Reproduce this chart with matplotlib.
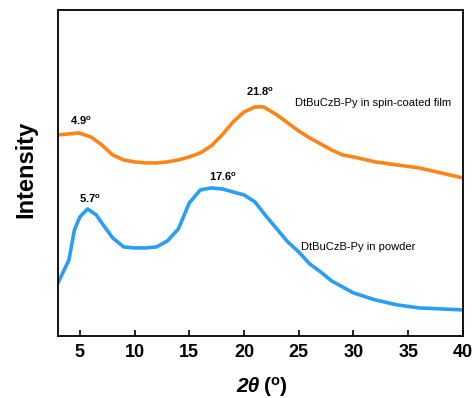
import numpy as np
import matplotlib
matplotlib.use("Agg")
from matplotlib import pyplot as plt

plt.rcParams['font.family'] = ['Liberation Sans', 'DejaVu Sans']

# film (spin-coated)
film_x = [3, 4, 4.9, 6, 7, 8, 9, 10, 11, 12, 13, 14, 15, 16, 17, 18, 19, 20, 21, 21.8,
          23, 24, 25, 26, 27, 28, 29, 30, 32, 34, 36, 38, 40]
film_y = [201, 202, 203, 199, 191, 181, 176, 174, 173, 173, 174, 176, 179, 183, 190, 201,
          214, 224, 229, 229, 221, 213, 205, 198, 192, 186, 181, 179, 174, 171, 168, 163, 158]

# powder
powder_x = [3, 4, 4.5, 5, 5.7, 6.5, 7, 8, 9, 10, 11, 12, 13, 14, 15, 16, 17, 18, 19, 20,
            21, 22, 23, 24, 25, 26, 27, 28, 29, 30, 32, 34, 36, 38, 40]
powder_y = [53, 76, 106, 119, 127, 121, 113, 98, 89, 88, 88, 89, 95, 107, 133, 146, 148,
            147, 144, 141, 134, 120, 107, 94, 84, 72, 64, 55, 49, 43, 36, 31, 28, 27, 26]

fig = plt.figure(figsize=(4.73, 3.98), dpi=100)
ax = fig.add_axes([0.1226, 0.156, 0.856, 0.819])

ax.plot(film_x, film_y, color='#FF8418', lw=2.6)
ax.plot(powder_x, powder_y, color='#2A9DF4', lw=2.6)

ax.set_xlim(3, 40)
ax.set_ylim(0, 326)
ax.set_xticks([5, 10, 15, 20, 25, 30, 35, 40])
ax.set_yticks([])
ax.tick_params(axis='x', direction='in', length=4.5, width=1.2, labelsize=13, pad=6)
for lab in ax.get_xticklabels():
    lab.set_fontweight('bold')
for s in ax.spines.values():
    s.set_linewidth(1.3)

ax.set_ylabel('Intensity', fontsize=17, fontweight='bold')
ax.yaxis.set_label_coords(-0.052, 0.51)

# x label: italic 2θ, upright (°)
ly = 1 - 387 / 398
fig.text(260 / 473, ly, '2θ', ha='right', va='center', fontsize=15,
         fontweight='bold', fontstyle='italic')
fig.text(263 / 473, ly, r'($\mathregular{^o}$)', ha='left', va='center',
         fontsize=15, fontweight='bold')

deg = r'$\mathregular{^o}$'
kw = dict(fontsize=8, fontweight='bold', ha='center', va='center')
ax.text(5.1, 215, '4.9' + deg, **kw)
ax.text(21.5, 244, '21.8' + deg, **kw)
ax.text(5.9, 137, '5.7' + deg, **kw)
ax.text(18.1, 159, '17.6' + deg, **kw)
ax.text(24.7, 233, 'DtBuCzB-Py in spin-coated film', fontsize=8, ha='left', va='center')
ax.text(25.2, 89, 'DtBuCzB-Py in powder', fontsize=8, ha='left', va='center')

fig.savefig('out.png', dpi=100)
